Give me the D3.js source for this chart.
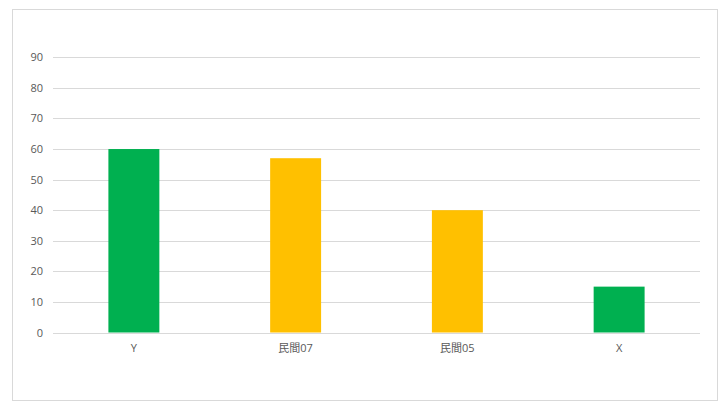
<!DOCTYPE html>
<html><head><meta charset="utf-8">
<script src="https://cdn.jsdelivr.net/npm/d3@7"></script>
<style>
html,body{margin:0;padding:0;background:#fff;}
text{font-family:"Open Sans","Noto Sans CJK JP",sans-serif;}
</style></head>
<body><svg id="c" width="724" height="403"></svg>
<script>
const categories = ["Y", "民間07", "民間05", "X"];
const values = [60, 57, 40, 15];
const barColors = ["#00B050", "#FFC000", "#FFC000", "#00B050"];
const yTicks = [0, 10, 20, 30, 40, 50, 60, 70, 80, 90];

const svg = d3.select("#c");
svg.append("rect").attr("x", 12.5).attr("y", 9.5).attr("width", 705).attr("height", 391)
  .attr("fill", "#fff").attr("stroke", "#d9d9d9");

const x = d3.scaleBand().domain(categories).range([53, 700]).paddingInner(0.685).paddingOuter(0.3425);
const y = d3.scaleLinear().domain([0, 90]).range([332.5, 57.3]);

const grid = svg.append("g");
grid.selectAll("line").data(yTicks).join("line")
  .attr("x1", 53).attr("x2", 700)
  .attr("y1", d => Math.round(y(d)) + 0.5).attr("y2", d => Math.round(y(d)) + 0.5)
  .attr("stroke", "#d9d9d9").attr("stroke-width", 1);

const yAxis = svg.append("g").attr("transform", "translate(53,0)")
  .call(d3.axisLeft(y).tickValues(yTicks).tickSize(0).tickPadding(10));
yAxis.select(".domain").remove();
yAxis.selectAll("text").attr("fill", "#595959").style("font-size", "11px");

svg.append("g").selectAll("rect").data(values).join("rect")
  .attr("x", (d, i) => x(categories[i]))
  .attr("width", x.bandwidth())
  .attr("y", d => y(d))
  .attr("height", d => y(0) - y(d))
  .attr("fill", (d, i) => barColors[i]);

const xAxis = svg.append("g").attr("transform", "translate(0,332.5)")
  .call(d3.axisBottom(x).tickSize(0).tickPadding(12));
xAxis.select(".domain").remove();
xAxis.selectAll("text").attr("fill", "#595959").style("font-size", "11px");
</script></body></html>
